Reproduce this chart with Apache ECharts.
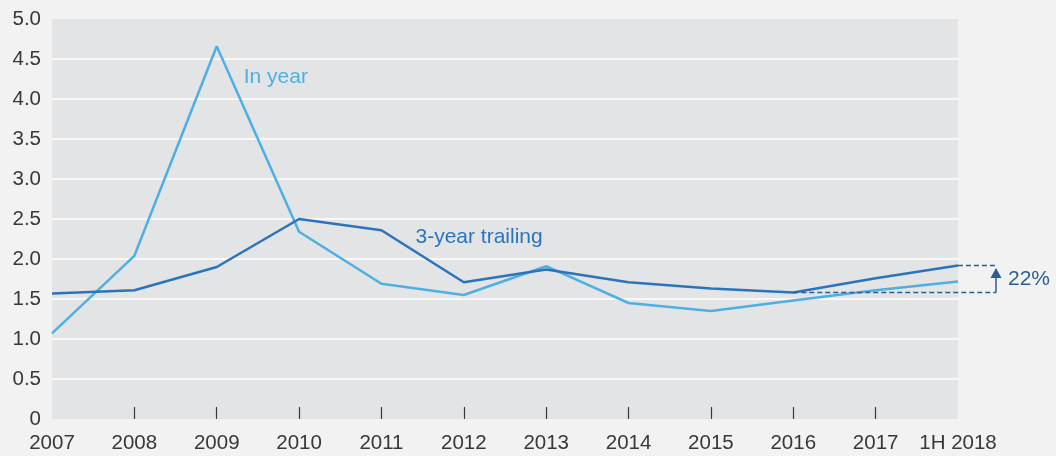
<!DOCTYPE html>
<html>
<head>
<meta charset="utf-8">
<script src="https://cdn.jsdelivr.net/npm/echarts@6/dist/echarts.min.js"></script>
<style>
  html, body { margin: 0; padding: 0; background: #f2f2f2; }
  #chart { width: 1056px; height: 456px; }
</style>
</head>
<body>
<div id="chart"></div>
<script>
  const years = ['2007', '2008', '2009', '2010', '2011', '2012', '2013', '2014', '2015', '2016', '2017', '1H 2018'];
  const inYear = [1.07, 2.04, 4.66, 2.34, 1.69, 1.55, 1.91, 1.45, 1.35, 1.48, 1.61, 1.72];
  const trailing = [1.57, 1.61, 1.90, 2.50, 2.36, 1.71, 1.87, 1.71, 1.63, 1.58, 1.76, 1.92];
  const changeLabel = '22%';

  const lightBlue = '#4eafe2';
  const darkBlue = '#2b74bb';
  const noteBlue = '#2c5d92';
  const font = 'Liberation Sans, Arial, sans-serif';

  const chart = echarts.init(document.getElementById('chart'));

  chart.setOption({
    backgroundColor: '#f2f2f2',
    animation: false,
    grid: {
      left: 52, right: 98, top: 19, bottom: 37,
      show: true, backgroundColor: '#e3e4e6', borderWidth: 0
    },
    xAxis: {
      type: 'category',
      data: years,
      boundaryGap: false,
      axisLine: { show: false },
      axisTick: {
        show: true,
        inside: true,
        length: 12,
        interval: (i) => i > 0 && i < years.length - 1,
        lineStyle: { color: '#3a3a3a', width: 1.2 }
      },
      axisLabel: { color: '#383838', fontSize: 20.5, fontFamily: font, margin: 14, interval: 0 }
    },
    yAxis: {
      type: 'value',
      min: 0, max: 5, interval: 0.5,
      axisLine: { show: false },
      axisTick: { show: false },
      axisLabel: {
        color: '#383838', fontSize: 20.5, fontFamily: font, margin: 11,
        formatter: (v) => v === 0 ? '0' : v.toFixed(1)
      },
      splitLine: { show: true, showMinLine: false, showMaxLine: false, lineStyle: { color: '#ffffff', width: 1.5 } }
    },
    series: [
      {
        name: 'In year', type: 'line', data: inYear,
        symbol: 'none', lineStyle: { color: lightBlue, width: 2.5 }, z: 3
      },
      {
        name: '3-year trailing', type: 'line', data: trailing,
        symbol: 'none', lineStyle: { color: darkBlue, width: 2.5 }, z: 4
      }
    ]
  });

  // annotations positioned through the chart's own scales
  const last = years.length - 1;
  const p2016 = chart.convertToPixel('grid', [years[9], trailing[9]]);
  const pEnd = chart.convertToPixel('grid', [years[last], trailing[last]]);
  const arrowX = pEnd[0] + 38;
  const pInYear = chart.convertToPixel('grid', [years[2], 4.27]);
  const pTrail = chart.convertToPixel('grid', [years[4], 2.27]);
  const dash = { stroke: noteBlue, lineWidth: 1.5, lineDash: [5, 3] };

  chart.setOption({
    graphic: [
      { type: 'line', shape: { x1: p2016[0], y1: p2016[1], x2: arrowX, y2: p2016[1] }, style: dash, z: 10 },
      { type: 'line', shape: { x1: pEnd[0], y1: pEnd[1], x2: arrowX, y2: pEnd[1] }, style: dash, z: 10 },
      { type: 'line', shape: { x1: arrowX, y1: p2016[1], x2: arrowX, y2: pEnd[1] + 10 }, style: { stroke: noteBlue, lineWidth: 1.5 }, z: 10 },
      { type: 'polygon', shape: { points: [[arrowX - 5.5, pEnd[1] + 12.5], [arrowX + 5.5, pEnd[1] + 12.5], [arrowX, pEnd[1] + 2.5]] }, style: { fill: noteBlue }, z: 10 },
      { type: 'text', x: arrowX + 12, y: (p2016[1] + pEnd[1]) / 2, style: { text: changeLabel, fill: noteBlue, fontSize: 21, fontFamily: font, verticalAlign: 'middle' }, z: 10 },
      { type: 'text', x: pInYear[0] + 27, y: pInYear[1], style: { text: 'In year', fill: lightBlue, fontSize: 21, fontFamily: font, verticalAlign: 'middle' }, z: 10 },
      { type: 'text', x: pTrail[0] + 34, y: pTrail[1], style: { text: '3-year trailing', fill: darkBlue, fontSize: 21, fontFamily: font, verticalAlign: 'middle' }, z: 10 }
    ]
  });
</script>
</body>
</html>
